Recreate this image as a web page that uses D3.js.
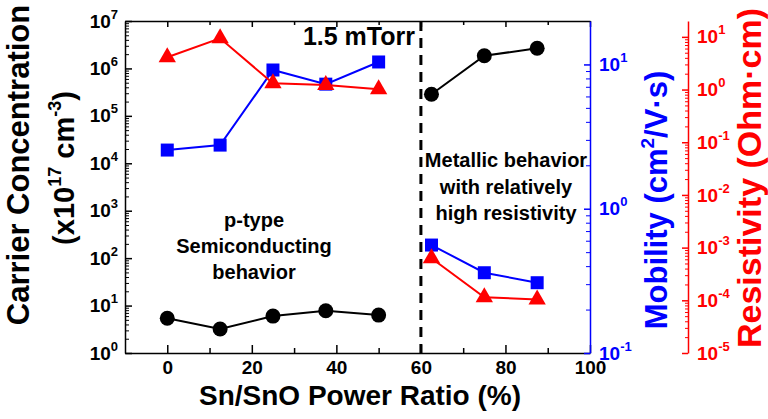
<!DOCTYPE html>
<html><head><meta charset="utf-8">
<script src="https://cdn.jsdelivr.net/npm/d3@7"></script>
<style>
body{margin:0;background:#fff;}
svg{display:block;font-family:"Liberation Sans",Arial,sans-serif;font-weight:bold;}
</style></head>
<body><svg id="c" width="768" height="419"></svg>
<script>
// ---- data ----
const xSemi = [0, 12.5, 25, 37.5, 50];
const xMetal = [62.5, 75, 87.5];
const carrierSemi = [5.4, 3.2, 6.0, 7.8, 6.3];
const carrierMetal = [2.85e5, 1.85e6, 2.66e6];
const mobilitySemi = [2.55, 2.76, 9.15, 7.3, 10.4];
const mobilityMetal = [0.56, 0.36, 0.307];
const resistSemi = [4.1, 9.4, 1.31, 1.22, 1.01];
const resistMetal = [6.3e-4, 1.14e-4, 1.04e-4];
const xTickLabels = [0, 20, 40, 60, 80, 100];
const leftExps = [0, 1, 2, 3, 4, 5, 6, 7];
const blueExps = [-1, 0, 1];
const redExps = [-5, -4, -3, -2, -1, 0, 1];
const dividerX = 60;

const svg = d3.select("#c");
const L = 125, R = 590, T = 21, B = 353, RED_X = 688;
const BLUE = "#0000ff", RED = "#ff0000";

const x = d3.scaleLinear().domain([-10, 100]).range([L, R]);
const yC = d3.scaleLog().domain([1, 1e7]).range([B, T]);
const yM = d3.scaleLog().domain([0.1, 20]).range([B, T]);
const yR = d3.scaleLog().domain([1e-5, 20]).range([B, T]);

function minors(scale, lo, hi) {
  const out = [];
  for (let e = lo; e <= hi; e++) for (let m = 2; m <= 9; m++) {
    const v = m * Math.pow(10, e);
    const d = scale.domain();
    if (v > d[0] && v < d[1]) out.push(v);
  }
  return out;
}
function supLabel(sel, fs) {
  sel.each(function(d) {
    const t = d3.select(this);
    const e = Math.round(Math.log10(d));
    t.text("").style("font-size", fs + "px");
    t.append("tspan").text("10");
    t.append("tspan").attr("dy", -9).style("font-size", "13px").text(e);
  });
}

// top axis ticks
svg.append("g").attr("transform", `translate(0,${T})`)
  .call(d3.axisTop(x).tickValues(d3.range(0, 101, 20)).tickSize(-6).tickSizeOuter(0).tickFormat(""))
  .call(g => g.selectAll("line,path").attr("stroke", "#000").attr("stroke-width", 1.5));
svg.append("g").attr("transform", `translate(0,${T})`)
  .call(d3.axisTop(x).tickValues(d3.range(10, 100, 20)).tickSize(-4).tickFormat(""))
  .call(g => g.select("path").remove())
  .call(g => g.selectAll("line").attr("stroke", "#000").attr("stroke-width", 1.5));

// bottom axis
svg.append("g").attr("transform", `translate(0,${B})`)
  .call(d3.axisBottom(x).tickValues(xTickLabels).tickSize(-8).tickSizeOuter(0).tickPadding(8))
  .call(g => g.selectAll("line,path").attr("stroke", "#000").attr("stroke-width", 1.5))
  .call(g => g.selectAll("text").attr("fill", "#000").style("font-size", "19px").style("font-family", "inherit"));
svg.append("g").attr("transform", `translate(0,${B})`)
  .call(d3.axisBottom(x).tickValues(d3.range(10, 100, 20)).tickSize(-5).tickFormat(""))
  .call(g => g.select("path").remove())
  .call(g => g.selectAll("line").attr("stroke", "#000").attr("stroke-width", 1.5));

// left axis
svg.append("g").attr("transform", `translate(${L},0)`)
  .call(d3.axisLeft(yC).tickValues(leftExps.map(e => Math.pow(10, e))).tickSize(-7).tickSizeOuter(0).tickPadding(7))
  .call(g => g.selectAll("line,path").attr("stroke", "#000").attr("stroke-width", 1.5))
  .call(g => g.selectAll("text").attr("fill", "#000").style("font-family", "inherit").call(supLabel, 19));
svg.append("g").attr("transform", `translate(${L},0)`)
  .call(d3.axisLeft(yC).tickValues(minors(yC, 0, 6)).tickSize(-4).tickFormat(""))
  .call(g => g.select("path").remove())
  .call(g => g.selectAll("line").attr("stroke", "#000").attr("stroke-width", 1));

// blue axis
svg.append("g").attr("transform", `translate(${R},0)`)
  .call(d3.axisRight(yM).tickValues(blueExps.map(e => Math.pow(10, e))).tickSize(-6).tickSizeOuter(0).tickPadding(9))
  .call(g => g.selectAll("line,path").attr("stroke", BLUE).attr("stroke-width", 1.5))
  .call(g => g.selectAll("text").attr("fill", BLUE).style("font-family", "inherit").call(supLabel, 19));
svg.append("g").attr("transform", `translate(${R},0)`)
  .call(d3.axisRight(yM).tickValues(minors(yM, -1, 1)).tickSize(-4).tickFormat(""))
  .call(g => g.select("path").remove())
  .call(g => g.selectAll("line").attr("stroke", BLUE).attr("stroke-width", 1));

// red axis
svg.append("g").attr("transform", `translate(${RED_X},0)`)
  .call(d3.axisRight(yR).tickValues(redExps.map(e => Math.pow(10, e))).tickSize(-6).tickSizeOuter(0).tickPadding(9))
  .call(g => g.selectAll("line,path").attr("stroke", RED).attr("stroke-width", 1.5))
  .call(g => g.selectAll("text").attr("fill", RED).style("font-family", "inherit").call(supLabel, 19));
svg.append("g").attr("transform", `translate(${RED_X},0)`)
  .call(d3.axisRight(yR).tickValues(minors(yR, -5, 1)).tickSize(-3).tickFormat(""))
  .call(g => g.select("path").remove())
  .call(g => g.selectAll("line").attr("stroke", RED).attr("stroke-width", 1));

// divider
svg.append("line").attr("x1", x(dividerX)).attr("x2", x(dividerX)).attr("y1", T).attr("y2", B)
  .attr("stroke", "#000").attr("stroke-width", 3).attr("stroke-dasharray", "10,7");

// series
function series(xs, ys, yScale, color, shape) {
  const pts = xs.map((v, i) => [x(v), yScale(ys[i])]);
  svg.append("path").attr("d", d3.line()(pts)).attr("fill", "none").attr("stroke", color).attr("stroke-width", 2);
  const sym = shape === "circle" ? d3.symbol(d3.symbolCircle, 177)
            : shape === "square" ? d3.symbol(d3.symbolSquare, 169)
            : d3.symbol(d3.symbolTriangle, 130);
  svg.append("g").selectAll("path").data(pts).join("path")
    .attr("transform", d => `translate(${d[0]},${d[1]})`)
    .attr("d", sym()).attr("fill", color);
}
series(xSemi, carrierSemi, yC, "#000", "circle");
series(xMetal, carrierMetal, yC, "#000", "circle");
series(xSemi, mobilitySemi, yM, BLUE, "square");
series(xMetal, mobilityMetal, yM, BLUE, "square");
series(xSemi, resistSemi, yR, RED, "triangle");
series(xMetal, resistMetal, yR, RED, "triangle");

// annotations
svg.append("text").attr("x", 415).attr("y", 45).attr("text-anchor", "end").style("font-size", "25px").text("1.5 mTorr");
const semi = svg.append("text").attr("text-anchor", "middle").style("font-size", "20px");
["p-type", "Semiconducting", "behavior"].forEach((s, i) =>
  semi.append("tspan").attr("x", 254).attr("y", 227 + i * 26).text(s));
const met = svg.append("text").attr("text-anchor", "middle").style("font-size", "20px");
["Metallic behavior", "with relatively", "high resistivity"].forEach((s, i) =>
  met.append("tspan").attr("x", 506).attr("y", 167 + i * 26.5).text(s));

// axis titles
svg.append("text").attr("x", 360).attr("y", 405).attr("text-anchor", "middle").style("font-size", "28px")
  .text("Sn/SnO Power Ratio (%)");
svg.append("text").attr("transform", "translate(29,165) rotate(-90)").attr("text-anchor", "middle")
  .style("font-size", "31px").text("Carrier Concentration");
const t2 = svg.append("text").attr("transform", "translate(74,168) rotate(-90)").attr("text-anchor", "middle")
  .style("font-size", "29px");
t2.append("tspan").text("(x10");
t2.append("tspan").attr("dy", -13).style("font-size", "18px").text("17");
t2.append("tspan").attr("dy", 13).text(" cm");
t2.append("tspan").attr("dy", -13).style("font-size", "18px").text("-3");
t2.append("tspan").attr("dy", 13).text(")");
const tm = svg.append("text").attr("transform", "translate(667,200) rotate(-90)").attr("text-anchor", "middle")
  .attr("fill", BLUE).style("font-size", "31px");
tm.append("tspan").text("Mobility (cm");
tm.append("tspan").attr("dy", -13).style("font-size", "19px").text("2");
tm.append("tspan").attr("dy", 13).text("/V\u00b7s)");
svg.append("text").attr("transform", "translate(761,178) rotate(-90)").attr("text-anchor", "middle")
  .attr("fill", RED).style("font-size", "34px").text("Resistivity (Ohm\u00b7cm)");
</script></body></html>
